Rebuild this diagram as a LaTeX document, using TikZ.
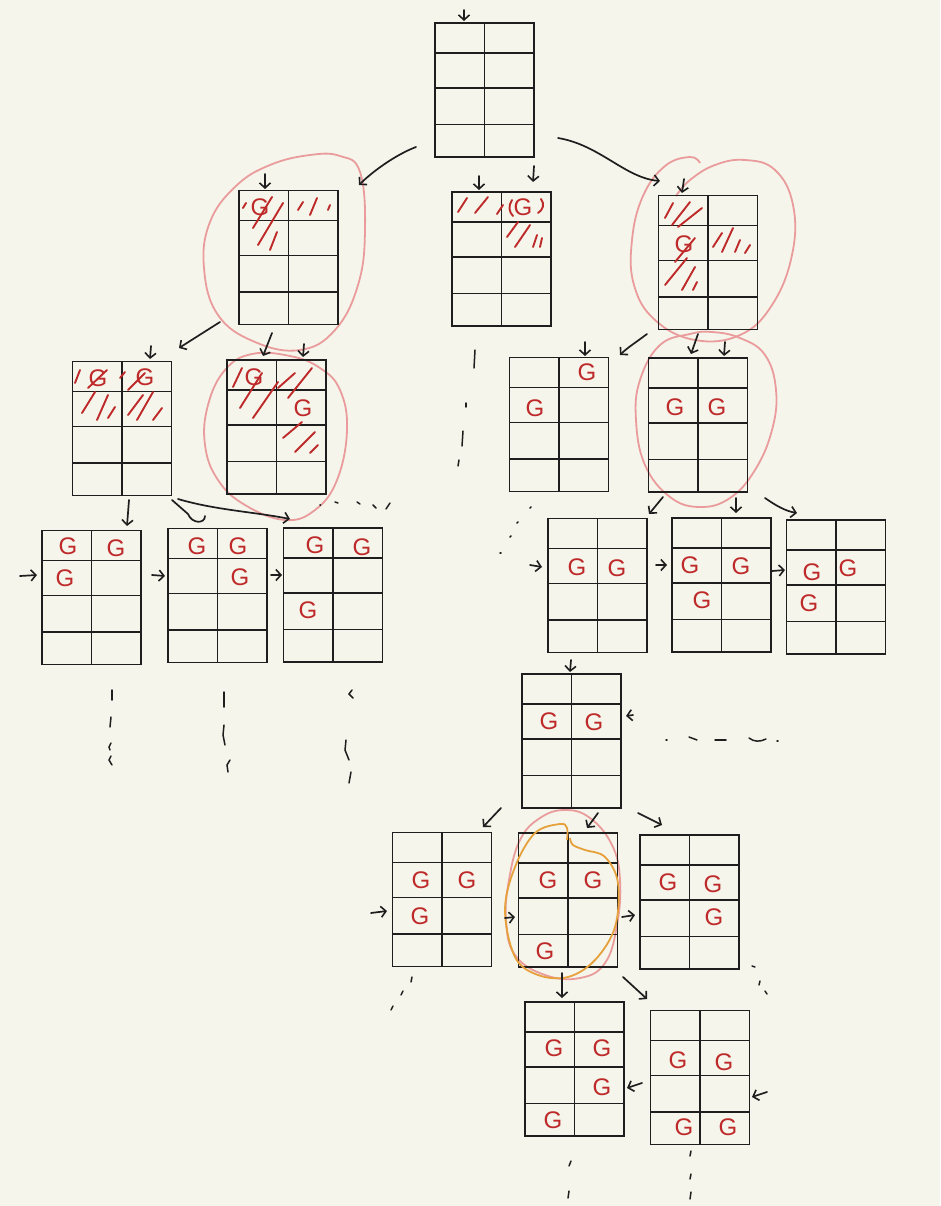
\documentclass[tikz,border=0pt]{standalone}
\usepackage{fontspec}
\newfontfamily\gfont{Liberation Sans}
\usetikzlibrary{arrows.meta,calc}
\definecolor{bgc}{HTML}{F5F5EB}
\definecolor{gred}{HTML}{BE2A2A}
\definecolor{pinkc}{HTML}{EA9C9C}
\definecolor{orangec}{HTML}{E6A03C}
\definecolor{inkc}{HTML}{1E1E1E}
\begin{document}
\begin{tikzpicture}[x=1pt,y=-1pt,
  gridbox/.style={draw=inkc, line width=1.4pt, minimum width=99pt, minimum height=134pt, inner sep=0pt,
    path picture={
      \draw[line width=1.4pt, inkc] (path picture bounding box.north) -- (path picture bounding box.south);
      \foreach \f in {0.224,0.486,0.757}
        \draw[line width=1.4pt, inkc] ($(path picture bounding box.north west)!\f!(path picture bounding box.south west)$) -- ($(path picture bounding box.north east)!\f!(path picture bounding box.south east)$);
    }},
  gl/.style={text=gred, font=\gfont\fontsize{24}{24}\selectfont, inner sep=0pt},
  hatch/.style={draw=gred, line width=1.9pt, line cap=round},
  arr/.style={draw=inkc, line width=1.7pt, line cap=round, line join=round, -{Straight Barb[length=5pt,width=11pt,line width=1.6pt]}},
  tick/.style={draw=inkc, line width=1.5pt, line cap=round},
  pinkloop/.style={draw=pinkc, line width=1.8pt},
  orangeloop/.style={draw=orangec, line width=1.8pt}]
\fill[bgc] (0,0) rectangle (940,1206);
\useasboundingbox (0,0) rectangle (940,1206);

% ---------- pink loops (behind) ----------
\draw[pinkloop] plot[smooth cycle, tension=0.7] coordinates {(236,186) (270,165) (310,155) (340,156) (360,172) (365,230) (358,285) (335,330) (300,350) (255,342) (218,315) (204,268) (210,222)};
\draw[pinkloop] plot[smooth, tension=0.7] coordinates {(700,163) (690,157) (665,166) (643,196) (632,240) (634,285) (655,320) (695,340) (740,335) (772,305) (792,255) (793,205) (775,170) (745,160) (715,165) (690,180) (676,196)};
\draw[pinkloop] plot[smooth cycle, tension=0.7] coordinates {(252,354) (225,370) (208,405) (205,445) (218,480) (245,505) (285,520) (315,510) (337,480) (347,430) (340,390) (320,368) (290,356)};
\draw[pinkloop] plot[smooth cycle, tension=0.7] coordinates {(690,334) (660,345) (640,380) (636,420) (645,465) (670,497) (700,507) (730,498) (755,470) (772,430) (776,390) (765,355) (740,338) (712,332)};
\draw[pinkloop] plot[smooth cycle, tension=0.7] coordinates {(565,810) (540,818) (520,840) (509,880) (506,920) (515,955) (545,975) (580,978) (605,963) (617,925) (620,880) (612,845) (590,818)};

% ---------- grids ----------
\node[gridbox] (top) at (484.5,90) {};
\node[gridbox] (l1l) at (288.5,257.5) {};
\node[gridbox] (l1m) at (501.5,259) {};
\node[gridbox] (l1r) at (708,262.5) {};
\node[gridbox] (l2a) at (122,428.5) {};
\node[gridbox] (l2b) at (276.5,427) {};
\node[gridbox] (l2c) at (559,424.5) {};
\node[gridbox] (l2d) at (698,425) {};
\node[gridbox] (l3a) at (91.5,597.5) {};
\node[gridbox] (l3b) at (217.5,595.5) {};
\node[gridbox] (l3c) at (333,595) {};
\node[gridbox] (l3d) at (597.5,585.5) {};
\node[gridbox] (l3e) at (721.5,585) {};
\node[gridbox] (l3f) at (836,587) {};
\node[gridbox] (l4) at (571.5,741) {};
\node[gridbox] (l5a) at (442,899.5) {};
\node[gridbox] (l5b) at (568,900) {};
\node[gridbox] (l5c) at (689.5,902) {};
\node[gridbox] (l6a) at (574.5,1069) {};
\node[gridbox] (l6b) at (700,1077.5) {};

% ---------- orange loop (over grid) ----------
\draw[orangeloop] plot[smooth, tension=0.6] coordinates {(567,840) (567,828) (560,824) (535,833) (515,867) (505,910) (515,957) (538,975) (568,977) (595,960) (615,927) (618,883) (605,857) (585,850) (573,845) (570,838)};

% ---------- hatches ----------
% l1l
\draw[hatch] (243,208) -- (246,203);
\draw[hatch] (253,228) -- (272,197);
\draw[hatch] (258,245) -- (283,203);
\draw[hatch] (270,250) -- (277,232);
\draw[hatch] (298,210) -- (303,202);
\draw[hatch] (310,215) -- (317,198);
\draw[hatch] (328,210) -- (330,205);
% l1m
\draw[hatch] (458,212) -- (467,198);
\draw[hatch] (475,213) -- (488,197);
\draw[hatch] (497,214) -- (503,205);
\draw[hatch] (512,200) .. controls (508,206) and (509,212) .. (513,216);
\draw[hatch] (541,199) .. controls (545,204) and (543,210) .. (538,213);
\draw[hatch] (507,237) -- (518,222);
\draw[hatch] (515,247) -- (530,225);
\draw[hatch] (533,247) -- (537,235);
\draw[hatch] (540,247) -- (542,238);
% l1r
\draw[hatch] (665,218) -- (673,203);
\draw[hatch] (672,225) -- (690,202);
\draw[hatch] (678,227) -- (702,208);
\draw[hatch] (675,262) -- (695,238);
\draw[hatch] (665,285) -- (687,258);
\draw[hatch] (682,290) -- (695,267);
\draw[hatch] (693,290) -- (697,282);
\draw[hatch] (713,247) -- (722,233);
\draw[hatch] (722,252) -- (733,228);
\draw[hatch] (735,252) -- (740,240);
\draw[hatch] (745,253) -- (750,245);
% l2a
\draw[hatch] (75,383) -- (80,370);
\draw[hatch] (88,388) -- (107,370);
\draw[hatch] (82,413) -- (95,392);
\draw[hatch] (97,420) -- (108,395);
\draw[hatch] (108,418) -- (115,407);
\draw[hatch] (120,378) -- (125,372);
\draw[hatch] (128,390) -- (145,373);
\draw[hatch] (128,415) -- (143,395);
\draw[hatch] (137,420) -- (153,392);
\draw[hatch] (153,420) -- (162,408);
% l2b
\draw[hatch] (233,387) -- (242,368);
\draw[hatch] (240,408) -- (262,373);
\draw[hatch] (253,418) -- (278,382);
\draw[hatch] (278,388) -- (295,373);
\draw[hatch] (288,398) -- (312,368);
\draw[hatch] (283,438) -- (302,422);
\draw[hatch] (295,452) -- (315,432);
\draw[hatch] (310,453) -- (318,445);

% ---------- G letters ----------
\node[gl] (g1) at (260,207) {G};
\node[gl] (g2) at (523,207) {G};
\node[gl] (g3) at (684,244) {G};
\node[gl] (g4) at (98,378) {G};
\node[gl] (g5) at (145,377) {G};
\node[gl] (g6) at (254,377) {G};
\node[gl] (g7) at (303,408) {G};
\node[gl] (g8) at (587,372) {G};
\node[gl] (g9) at (535,408) {G};
\node[gl] (g10) at (675,407) {G};
\node[gl] (g11) at (717,407) {G};
\node[gl] (g12) at (68,546) {G};
\node[gl] (g13) at (116,548) {G};
\node[gl] (g14) at (65,578) {G};
\node[gl] (g15) at (197,546) {G};
\node[gl] (g16) at (238,546) {G};
\node[gl] (g17) at (240,577) {G};
\node[gl] (g18) at (315,545) {G};
\node[gl] (g19) at (362,547) {G};
\node[gl] (g20) at (308,610) {G};
\node[gl] (g21) at (577,567) {G};
\node[gl] (g22) at (617,568) {G};
\node[gl] (g23) at (690,565) {G};
\node[gl] (g24) at (741,566) {G};
\node[gl] (g25) at (702,600) {G};
\node[gl] (g26) at (812,572) {G};
\node[gl] (g27) at (848,568) {G};
\node[gl] (g28) at (809,603) {G};
\node[gl] (g29) at (549,721) {G};
\node[gl] (g30) at (594,722) {G};
\node[gl] (g31) at (421,880) {G};
\node[gl] (g32) at (467,880) {G};
\node[gl] (g33) at (420,916) {G};
\node[gl] (g34) at (548,880) {G};
\node[gl] (g35) at (593,880) {G};
\node[gl] (g36) at (545,951) {G};
\node[gl] (g37) at (668,882) {G};
\node[gl] (g38) at (713,884) {G};
\node[gl] (g39) at (714,917) {G};
\node[gl] (g40) at (554,1048) {G};
\node[gl] (g41) at (602,1048) {G};
\node[gl] (g42) at (602,1087) {G};
\node[gl] (g43) at (553,1120) {G};
\node[gl] (g44) at (678,1060) {G};
\node[gl] (g45) at (724,1062) {G};
\node[gl] (g46) at (684,1127) {G};
\node[gl] (g47) at (728,1127) {G};

% ---------- arrow end points ----------
\coordinate (a0s) at (464,10);   \coordinate (a0e) at (464,21);
\coordinate (a1s) at (416,147);  \coordinate (a1e) at (359,185);
\coordinate (a2s) at (558,138);  \coordinate (a2e) at (660,181);
\coordinate (a3s) at (479,176);  \coordinate (a3e) at (479,190);
\coordinate (a4s) at (534,166);  \coordinate (a4e) at (533,182);
\coordinate (a5s) at (265,174);  \coordinate (a5e) at (265,189);
\coordinate (a6s) at (684,179);  \coordinate (a6e) at (682,193);
\coordinate (a7s) at (220,322);  \coordinate (a7e) at (179,348);
\coordinate (a8s) at (151,346);  \coordinate (a8e) at (150,359);
\coordinate (a9s) at (272,333);  \coordinate (a9e) at (263,356);
\coordinate (a10s) at (304,344); \coordinate (a10e) at (303,357);
\coordinate (a11s) at (647,334); \coordinate (a11e) at (620,355);
\coordinate (a12s) at (585,342); \coordinate (a12e) at (585,356);
\coordinate (a13s) at (698,334); \coordinate (a13e) at (691,354);
\coordinate (a14s) at (725,342); \coordinate (a14e) at (724,356);
\coordinate (a15s) at (129,500); \coordinate (a15e) at (127,526);
\coordinate (a16s) at (172,500); \coordinate (a16e) at (205,516);
\coordinate (a17s) at (178,499); \coordinate (a17e) at (290,519);
\coordinate (a18s) at (20,576);  \coordinate (a18e) at (37,575);
\coordinate (a19s) at (152,575); \coordinate (a19e) at (165,576);
\coordinate (a20s) at (271,575); \coordinate (a20e) at (282,575);
\coordinate (a21s) at (663,497); \coordinate (a21e) at (649,514);
\coordinate (a22s) at (736,498); \coordinate (a22e) at (736,513);
\coordinate (a23s) at (765,498); \coordinate (a23e) at (797,513);
\coordinate (a24s) at (530,565); \coordinate (a24e) at (542,567);
\coordinate (a25s) at (656,565); \coordinate (a25e) at (667,565);
\coordinate (a26s) at (772,571); \coordinate (a26e) at (785,570);
\coordinate (a27s) at (571,660); \coordinate (a27e) at (570,672);
\coordinate (a28s) at (633,715); \coordinate (a28e) at (626,716);
\coordinate (a29s) at (501,808); \coordinate (a29e) at (483,827);
\coordinate (a30s) at (598,813); \coordinate (a30e) at (587,828);
\coordinate (a31s) at (638,813); \coordinate (a31e) at (662,825);
\coordinate (a32s) at (371,913); \coordinate (a32e) at (387,911);
\coordinate (a33s) at (505,918); \coordinate (a33e) at (515,917);
\coordinate (a34s) at (622,917); \coordinate (a34e) at (635,915);
\coordinate (a35s) at (562,973); \coordinate (a35e) at (562,998);
\coordinate (a36s) at (623,977); \coordinate (a36e) at (647,999);
\coordinate (a37s) at (642,1083); \coordinate (a37e) at (627,1088);
\coordinate (a38s) at (767,1092); \coordinate (a38e) at (752,1097);

% ---------- arrows ----------
\draw[arr] (a0s) -- (a0e);
\draw[arr] (a1s) .. controls (395,155) and (372,172) .. (a1e);
\draw[arr] (a2s) .. controls (600,145) and (625,178) .. (a2e);
\draw[arr] (a3s) -- (a3e);
\draw[arr] (a4s) -- (a4e);
\draw[arr] (a5s) -- (a5e);
\draw[arr] (a6s) -- (a6e);
\draw[arr] (a7s) -- (a7e);
\draw[arr] (a8s) -- (a8e);
\draw[arr] (a9s) -- (a9e);
\draw[arr] (a10s) -- (a10e);
\draw[arr] (a11s) .. controls (635,343) and (627,348) .. (a11e);
\draw[arr] (a12s) -- (a12e);
\draw[arr] (a13s) -- (a13e);
\draw[arr] (a14s) -- (a14e);
\draw[arr] (a15s) -- (a15e);
\draw[tick, line width=1.7pt] (a16s) -- (188,514) .. controls (192,524) and (205,524) .. (a16e);
\draw[arr] (a17s) .. controls (215,510) and (255,512) .. (a17e);
\draw[arr] (a18s) -- (a18e);
\draw[arr] (a19s) -- (a19e);
\draw[arr] (a20s) -- (a20e);
\draw[arr] (a21s) -- (a21e);
\draw[arr] (a22s) -- (a22e);
\draw[arr] (a23s) .. controls (775,505) and (785,511) .. (a23e);
\draw[arr] (a24s) -- (a24e);
\draw[arr] (a25s) -- (a25e);
\draw[arr] (a26s) -- (a26e);
\draw[arr] (a27s) -- (a27e);
\draw[arr] (a28s) -- (a28e);
\draw[arr] (a29s) -- (a29e);
\draw[arr] (a30s) -- (a30e);
\draw[arr] (a31s) -- (a31e);
\draw[arr] (a32s) -- (a32e);
\draw[arr] (a33s) -- (a33e);
\draw[arr] (a34s) -- (a34e);
\draw[arr] (a35s) -- (a35e);
\draw[arr] (a36s) -- (a36e);
\draw[arr] (a37s) -- (a37e);
\draw[arr] (a38s) -- (a38e);

% ---------- continuation marks ----------
\draw[tick] (475,350) -- (474,368);
\draw[tick] (466,403) -- (466,407);
\draw[tick] (463,431) -- (462,446);
\draw[tick] (459,460) -- (458,466);
\draw[tick] (320,505) -- (320.5,505);
\draw[tick] (335,502) -- (338,503);
\draw[tick] (357,502) -- (360,504);
\draw[tick] (373,505) -- (376,508);
\draw[tick] (386,509) -- (390,503);
\draw[tick] (112,690) -- (112,700);
\draw[tick] (111,717) -- (110,727);
\draw[tick] (111,743) -- (109,747) -- (110,750);
\draw[tick] (111,756) -- (109,760) -- (112,765);
\draw[tick] (224,692) -- (224,707);
\draw[tick] (224,725) -- (223,735) -- (225,745);
\draw[tick] (230,760) -- (227,765) -- (228,772);
\draw[tick] (352,690) -- (349,694) -- (353,698);
\draw[tick] (346,740) -- (345,750) -- (349,760);
\draw[tick] (351,772) -- (349,783);
\draw[tick] (530,508) -- (531,507);
\draw[tick] (517,523) -- (518,522);
\draw[tick] (510,537) -- (511,536);
\draw[tick] (500,553) -- (501,553);
\draw[tick] (666,740) -- (667,740);
\draw[tick] (689,737) -- (697,740);
\draw[tick] (715,740) -- (726,740);
\draw[tick] (749,738) .. controls (754,742) and (760,742) .. (766,739);
\draw[tick] (777,741) -- (778,741);
\draw[tick] (412,977) -- (411,982);
\draw[tick] (403,991) -- (401,995);
\draw[tick] (393,1006) -- (391,1010);
\draw[tick] (752,966) -- (755,967);
\draw[tick] (760,981) -- (759,985);
\draw[tick] (765,991) -- (767,994);
\draw[tick] (571,1161) -- (569,1166);
\draw[tick] (569,1191) -- (568,1198);
\draw[tick] (691,1151) -- (690,1156);
\draw[tick] (691,1174) -- (690,1179);
\draw[tick] (691,1192) -- (690,1199);
\end{tikzpicture}
\end{document}
